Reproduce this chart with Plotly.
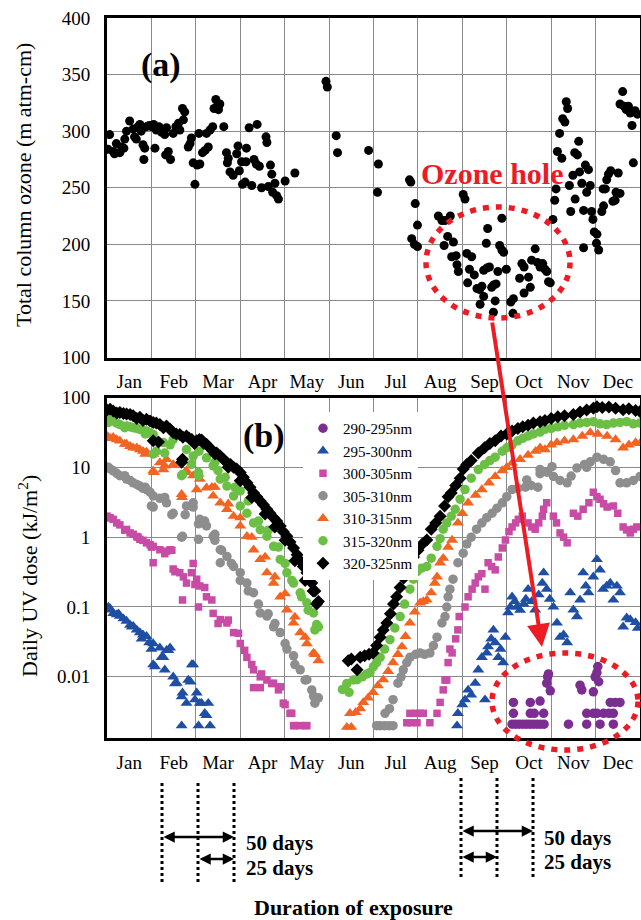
import math
import plotly.graph_objects as go

# ---------------- data (x in months from Jan 1: 0..12) ----------------
months = ["Jan", "Feb", "Mar", "Apr", "May", "Jun", "Jul", "Aug", "Sep", "Oct", "Nov", "Dec"]
month_centers = [i + 0.5 for i in range(12)]
month_bounds = list(range(1, 12))

ozone_tick_vals = [100, 150, 200, 250, 300, 350, 400]
uv_tick_vals = [0.01, 0.1, 1, 10, 100]
uv_tick_text = ["0.01", "0.1", "1", "10", "100"]

# total column ozone (m atm-cm): (month, value)
ozone = [
    (0.02, 284), (0.06, 297), (0.14, 282), (0.21, 289), (0.17, 280), (0.29, 281), (0.33, 286), (0.38, 285),
    (0.40, 293), (0.44, 300), (0.51, 309), (0.59, 302), (0.62, 295), (0.66, 293), (0.70, 304), (0.74, 306),
    (0.77, 300), (0.81, 288), (0.85, 285), (0.83, 275), (0.89, 304), (0.95, 305), (1.00, 304), (1.05, 306),
    (1.08, 285), (1.11, 301), (1.17, 304), (1.23, 299), (1.27, 301), (1.30, 297), (1.34, 303), (1.32, 279),
    (1.38, 282), (1.43, 275), (1.49, 298), (1.55, 304), (1.61, 307), (1.64, 301), (1.70, 320), (1.75, 317),
    (1.72, 310), (1.83, 286), (1.87, 289), (1.90, 294), (1.94, 272), (1.98, 253), (2.03, 270), (2.09, 271),
    (2.07, 298), (2.15, 281), (2.21, 283), (2.24, 298), (2.28, 286), (2.32, 301), (2.38, 304), (2.41, 320),
    (2.45, 328), (2.48, 322), (2.51, 319), (2.54, 324), (2.63, 304), (2.69, 281), (2.73, 276), (2.71, 272),
    (2.77, 264), (2.84, 261), (2.92, 280), (2.95, 287), (2.98, 265), (3.03, 273), (3.05, 253), (3.11, 255),
    (3.14, 285), (3.13, 273), (3.20, 303), (3.26, 252), (3.31, 275), (3.36, 271), (3.38, 306), (3.43, 269),
    (3.48, 250), (3.58, 295), (3.60, 290), (3.63, 251), (3.68, 270), (3.71, 262), (3.73, 246), (3.78, 254),
    (3.82, 243), (3.86, 240), (4.01, 256), (4.23, 263), (4.93, 344), (4.96, 339), (5.16, 296), (5.19, 281),
    (5.89, 283), (6.11, 271), (6.09, 246), (6.81, 257), (6.84, 255), (6.94, 236), (6.99, 217), (6.86, 205),
    (6.92, 200), (6.99, 198), (7.46, 225), (7.54, 221), (7.61, 221), (7.73, 225), (7.67, 207), (7.59, 199),
    (7.80, 202), (7.76, 189), (7.86, 190), (7.88, 182), (7.91, 176), (8.02, 244), (8.06, 240), (8.10, 192),
    (8.21, 189), (8.16, 178), (8.12, 166), (8.27, 173), (8.33, 161), (8.39, 160), (8.48, 154), (8.40, 147),
    (8.44, 163), (8.48, 177), (8.55, 179), (8.61, 180), (8.57, 214), (8.54, 201), (8.66, 162), (8.70, 164),
    (8.76, 165), (8.74, 150), (8.70, 140), (8.80, 176), (8.84, 199), (8.89, 195), (8.93, 193), (8.89, 223),
    (8.99, 178), (9.09, 149), (9.15, 152), (9.14, 139), (9.29, 170), (9.34, 183), (9.39, 180), (9.39, 157),
    (9.49, 171), (9.53, 162), (9.56, 186), (9.64, 196), (9.69, 184), (9.75, 180), (9.81, 183), (9.86, 178),
    (9.90, 176), (9.94, 167), (9.98, 166), (10.04, 222), (10.08, 239), (10.11, 249), (10.14, 282), (10.19, 298),
    (10.24, 276), (10.26, 311), (10.31, 308), (10.34, 326), (10.37, 320), (10.41, 252), (10.44, 229), (10.49, 261),
    (10.54, 240), (10.53, 281), (10.59, 279), (10.62, 291), (10.64, 264), (10.69, 254), (10.73, 197), (10.73, 230),
    (10.77, 270), (10.80, 246), (10.84, 266), (10.88, 252), (10.91, 229), (10.94, 222), (10.97, 211), (11.03, 209),
    (11.02, 201), (11.07, 195), (11.14, 229), (11.18, 234), (11.17, 249), (11.22, 249), (11.25, 257), (11.29, 262),
    (11.34, 265), (11.39, 238), (11.44, 239), (11.46, 246), (11.51, 263), (11.55, 245), (11.61, 335), (11.55, 324),
    (11.64, 322), (11.69, 319), (11.74, 322), (11.78, 316), (11.82, 305), (11.85, 272), (11.89, 318), (11.94, 315),
]

# daily UV dose (kJ/m2): (month, value)
uv_290_295 = [
    (9.12, 0.0021), (9.20, 0.0021), (9.28, 0.0021), (9.36, 0.0021), (9.44, 0.0021), (9.52, 0.0021), (9.60, 0.0021),
    (9.68, 0.0021), (9.76, 0.0021), (9.84, 0.0021), (10.39, 0.0021), (10.80, 0.0021), (11.10, 0.0021), (11.40, 0.0021),
    (9.15, 0.003), (9.53, 0.003), (9.62, 0.003), (9.83, 0.003), (10.80, 0.003), (10.95, 0.003), (11.03, 0.003),
    (11.18, 0.003), (11.30, 0.003), (11.40, 0.003), (9.15, 0.0043), (9.53, 0.0043), (9.75, 0.0045), (11.33, 0.0043),
    (11.44, 0.0043), (11.55, 0.0043), (9.90, 0.0081), (9.98, 0.0063), (10.69, 0.0065), (10.65, 0.0076), (10.95, 0.0061),
    (11.07, 0.0085), (9.92, 0.010), (9.94, 0.011), (10.99, 0.010), (11.03, 0.0115), (11.05, 0.014),
]

uv_295_300 = [
    (0.00, 0.091), (0.03, 0.10), (0.07, 0.095), (0.14, 0.081), (0.22, 0.078), (0.26, 0.080), (0.29, 0.074), (0.37, 0.068),
    (0.44, 0.063), (0.52, 0.055), (0.56, 0.052), (0.59, 0.053), (0.67, 0.047), (0.74, 0.043), (0.78, 0.035), (0.81, 0.040),
    (0.89, 0.038), (0.95, 0.031), (1.00, 0.025), (1.04, 0.030), (1.08, 0.014), (1.04, 0.015), (1.19, 0.026), (1.23, 0.019),
    (1.27, 0.019), (1.30, 0.0126), (1.34, 0.024), (1.38, 0.024), (1.42, 0.026), (1.49, 0.010), (1.53, 0.008), (1.57, 0.0081),
    (1.68, 0.0052), (1.68, 0.002), (1.70, 0.0059), (1.79, 0.0042), (1.83, 0.009), (1.88, 0.0085), (1.94, 0.015),
    (1.91, 0.015), (1.98, 0.0047), (2.02, 0.0059), (2.06, 0.002), (2.09, 0.0042), (2.13, 0.0042), (2.20, 0.003),
    (2.24, 0.0028), (2.28, 0.0042), (2.32, 0.002),
    (7.88, 0.002), (7.90, 0.003), (8.00, 0.004), (8.06, 0.0047), (8.13, 0.0065), (8.20, 0.0055), (8.29, 0.0081),
    (8.36, 0.0126), (8.44, 0.019), (8.51, 0.0047), (8.55, 0.022), (8.58, 0.027), (8.65, 0.035), (8.70, 0.047),
    (8.74, 0.031), (8.81, 0.019), (8.86, 0.025), (8.92, 0.016), (8.97, 0.037), (9.03, 0.083), (9.08, 0.10),
    (9.12, 0.14), (9.18, 0.12), (9.23, 0.10), (9.30, 0.09), (9.38, 0.11), (9.43, 0.13), (9.48, 0.18), (9.56, 0.12),
    (9.64, 0.091), (9.72, 0.15), (9.80, 0.22), (9.83, 0.31), (9.90, 0.18), (9.97, 0.13), (10.05, 0.10), (10.13, 0.059),
    (10.20, 0.037), (10.28, 0.040), (10.36, 0.031), (10.43, 0.16), (10.50, 0.091), (10.58, 0.073), (10.65, 0.126),
    (10.72, 0.31), (10.78, 0.20), (10.84, 0.16), (10.95, 0.27), (11.03, 0.48), (11.10, 0.34), (11.17, 0.18),
    (11.25, 0.20), (11.33, 0.22), (11.40, 0.126), (11.48, 0.20), (11.55, 0.16), (11.62, 0.052), (11.70, 0.07),
    (11.78, 0.066), (11.90, 0.06), (11.95, 0.05),
]

uv_300_305 = [
    (0.00, 2.0), (0.03, 1.9), (0.07, 1.9), (0.14, 1.8), (0.22, 1.6), (0.29, 1.5), (0.40, 1.26), (0.44, 1.29),
    (0.52, 1.15), (0.59, 1.1), (0.67, 1.02), (0.70, 1.0), (0.74, 0.93), (0.81, 0.9), (0.89, 0.83), (0.97, 0.78),
    (1.00, 0.72), (1.04, 0.74), (1.04, 0.43), (1.19, 0.66), (1.30, 0.58), (1.34, 0.63), (1.42, 0.66), (1.46, 0.65),
    (1.49, 0.35), (1.53, 0.32), (1.64, 0.31), (1.70, 0.126), (1.72, 0.27), (1.79, 0.22), (1.90, 0.31), (1.94, 0.42),
    (1.98, 0.21), (2.02, 0.25), (2.06, 0.10), (2.09, 0.20), (2.20, 0.19), (2.24, 0.14), (2.36, 0.126), (2.39, 0.081),
    (2.50, 0.058), (2.55, 0.066), (2.70, 0.059), (2.73, 0.065), (2.85, 0.043), (2.96, 0.042), (3.00, 0.030),
    (3.10, 0.024), (3.15, 0.019), (3.26, 0.015), (3.30, 0.0126), (3.45, 0.010), (3.48, 0.011), (3.60, 0.009),
    (3.71, 0.008), (3.75, 0.0081), (3.86, 0.0065), (3.90, 0.0072), (3.30, 0.007), (3.45, 0.007), (3.97, 0.0042),
    (4.01, 0.004), (4.12, 0.003), (4.16, 0.003), (4.20, 0.002), (4.23, 0.002), (4.35, 0.002), (4.46, 0.002), (4.50, 0.002),
    (6.75, 0.0022), (6.85, 0.0022), (6.98, 0.0022), (6.82, 0.003), (6.95, 0.003), (7.05, 0.003), (7.12, 0.003),
    (7.27, 0.0022), (7.43, 0.003), (7.50, 0.0043), (7.57, 0.0065), (7.61, 0.009), (7.65, 0.009), (7.68, 0.016),
    (7.72, 0.025), (7.77, 0.022), (7.85, 0.035), (7.90, 0.047), (7.93, 0.073), (8.06, 0.10), (8.13, 0.14),
    (8.22, 0.18), (8.29, 0.22), (8.36, 0.27), (8.44, 0.30), (8.51, 0.18), (8.58, 0.43), (8.66, 0.38), (8.74, 0.34),
    (8.81, 0.52), (8.90, 0.70), (8.97, 0.91), (9.05, 1.2), (9.12, 1.4), (9.20, 1.6), (9.26, 1.8), (9.35, 2.0),
    (9.48, 1.6), (9.56, 1.4), (9.64, 1.3), (9.72, 1.6), (9.80, 2.0), (9.90, 3.1), (9.83, 2.5), (10.05, 2.0),
    (10.12, 1.6), (10.20, 1.15), (10.28, 1.0), (10.36, 0.83), (10.50, 2.2), (10.60, 2.0), (10.72, 2.5), (10.85, 3.1),
    (10.95, 4.4), (11.03, 3.8), (11.10, 3.5), (11.18, 3.0), (11.26, 2.7), (11.40, 2.8), (11.50, 2.2), (11.62, 1.4),
    (11.70, 1.27), (11.78, 1.15), (11.85, 1.3), (11.93, 1.4),
]

uv_305_310 = [
    (0.00, 10), (0.03, 10), (0.07, 9.5), (0.14, 8.9), (0.22, 8.2), (0.29, 7.6), (0.40, 7.6), (0.44, 6.8),
    (0.52, 6.5), (0.59, 6.0), (0.67, 5.7), (0.74, 5.4), (0.81, 5.0), (0.86, 5.2), (0.89, 4.8), (0.97, 4.4),
    (1.04, 3.9), (1.04, 2.7), (1.00, 2.8), (1.19, 3.6), (1.30, 3.7), (1.34, 3.1), (1.46, 2.1), (1.49, 2.2),
    (1.68, 1.0), (1.70, 1.03), (1.76, 2.1), (1.79, 2.8), (1.94, 2.7), (1.94, 3.1), (2.06, 1.55), (2.06, 0.93),
    (2.09, 1.8), (2.20, 1.7), (2.24, 1.45), (2.39, 1.03), (2.43, 0.9), (2.43, 1.1), (2.55, 0.66), (2.55, 0.43),
    (2.58, 0.65), (2.70, 0.53), (2.80, 0.42), (2.85, 0.38), (3.00, 0.31), (3.00, 0.24), (3.15, 0.22), (3.18, 0.17),
    (3.30, 0.16), (3.41, 0.11), (3.45, 0.082), (3.60, 0.074), (3.63, 0.08), (3.75, 0.052), (3.78, 0.058),
    (3.90, 0.043), (4.01, 0.030), (4.05, 0.025), (4.20, 0.020), (4.23, 0.015), (4.35, 0.0126), (4.46, 0.009),
    (4.50, 0.0091), (4.61, 0.0065), (4.65, 0.0053), (4.68, 0.0042), (4.76, 0.005),
    (6.07, 0.002), (6.15, 0.002), (6.25, 0.002), (6.35, 0.002), (6.44, 0.002), (6.26, 0.003), (6.36, 0.0035),
    (6.44, 0.0047), (6.55, 0.0081), (6.62, 0.010), (6.67, 0.0126), (6.75, 0.016), (6.82, 0.019), (6.95, 0.021),
    (7.05, 0.022), (7.15, 0.021), (7.27, 0.022), (7.35, 0.028), (7.43, 0.037), (7.54, 0.059), (7.61, 0.073),
    (7.65, 0.10), (7.68, 0.14), (7.72, 0.18), (7.79, 0.25), (7.90, 0.43), (8.02, 0.59), (8.10, 0.80), (8.20, 1.0),
    (8.32, 1.3), (8.44, 1.6), (8.55, 1.9), (8.67, 2.2), (8.78, 2.6), (8.90, 3.1), (9.00, 3.8), (9.12, 4.8),
    (9.25, 5.0), (9.42, 5.2), (9.45, 6.6), (9.55, 5.5), (9.70, 5.2), (9.75, 8.1), (9.75, 9.3), (9.90, 8.5),
    (10.02, 10.2), (10.05, 7.4), (10.20, 6.5), (10.36, 6.0), (10.45, 7.5), (10.58, 9.8), (10.75, 11), (10.80, 10),
    (10.88, 12), (11.03, 14), (11.18, 13), (11.33, 12), (11.45, 9), (11.55, 6.0), (11.70, 6.0), (11.85, 6.5),
    (12.00, 7.4),
]

uv_310_315 = [
    (0.00, 28), (0.03, 27), (0.07, 26), (0.14, 27), (0.22, 25), (0.29, 24), (0.40, 21.5), (0.44, 21.5),
    (0.52, 20), (0.59, 19), (0.67, 19), (0.74, 18), (0.81, 17), (0.86, 15.5), (0.89, 16.6), (1.04, 15.4),
    (1.04, 8.9), (1.06, 8.5), (1.19, 11.7), (1.27, 9.3), (1.30, 10.5), (1.34, 13), (1.49, 11), (1.68, 4.1),
    (1.69, 3.7), (1.76, 8.5), (1.79, 8.9), (1.94, 7.6), (2.02, 4.8), (2.06, 8.0), (2.09, 6.8), (2.24, 5.1),
    (2.36, 5.2), (2.39, 3.9), (2.43, 5.2), (2.55, 3.1), (2.70, 2.5), (2.73, 3.0), (2.85, 2.0), (3.00, 1.45),
    (3.00, 1.9), (3.15, 1.03), (3.26, 1.0), (3.30, 0.66), (3.45, 0.48), (3.56, 0.52), (3.60, 0.31), (3.75, 0.22),
    (3.78, 0.27), (3.90, 0.14), (4.01, 0.155), (4.05, 0.091), (4.20, 0.059), (4.23, 0.072), (4.35, 0.043),
    (4.46, 0.037), (4.50, 0.030), (4.65, 0.022), (4.68, 0.021), (4.76, 0.017),
    (5.40, 0.0019), (5.50, 0.0019), (5.47, 0.003), (5.60, 0.0031), (5.70, 0.0035), (5.77, 0.0043), (5.88, 0.005),
    (5.99, 0.006), (6.10, 0.0075), (6.22, 0.0091), (6.33, 0.012), (6.44, 0.016), (6.55, 0.021), (6.64, 0.027),
    (6.72, 0.038), (6.82, 0.059), (6.93, 0.085), (7.05, 0.115), (7.12, 0.12), (7.20, 0.126), (7.30, 0.16),
    (7.38, 0.22), (7.43, 0.27), (7.50, 0.43), (7.57, 0.50), (7.68, 0.72), (7.77, 0.91), (7.90, 1.6), (8.00, 2.2),
    (8.13, 3.1), (8.30, 4.0), (8.44, 4.8), (8.60, 6.0), (8.74, 7.4), (8.90, 9.0), (9.00, 10), (9.12, 11.5),
    (9.30, 13), (9.48, 15), (9.65, 17), (9.75, 19), (9.86, 18), (10.00, 21), (10.13, 22.6), (10.30, 24),
    (10.50, 25), (10.70, 28), (10.88, 31.5), (11.05, 30), (11.26, 28), (11.45, 25), (11.62, 19), (11.75, 21),
    (11.90, 22.6), (12.00, 22),
]

uv_315_320 = [
    (0.00, 49), (0.03, 44), (0.07, 47), (0.14, 46), (0.22, 43), (0.29, 41), (0.40, 37), (0.44, 39),
    (0.52, 38), (0.59, 37), (0.67, 36), (0.74, 35), (0.81, 34), (0.86, 30), (0.89, 33), (0.97, 31),
    (1.04, 29.6), (1.04, 15.5), (1.11, 17), (1.27, 22.6), (1.30, 16), (1.42, 21), (1.49, 25), (1.68, 7.6),
    (1.70, 7.9), (1.79, 18), (1.90, 11), (1.94, 14.5), (2.06, 8.4), (2.06, 7.6), (2.07, 17), (2.24, 13.7),
    (2.39, 10.5), (2.43, 11.8), (2.50, 9), (2.55, 6.8), (2.66, 7.2), (2.70, 5.4), (2.85, 3.9), (2.88, 5.2),
    (3.00, 2.8), (3.00, 4.6), (3.15, 2.2), (3.18, 3.3), (3.30, 1.6), (3.41, 1.7), (3.45, 1.28), (3.60, 1.03),
    (3.63, 1.26), (3.75, 0.74), (3.86, 0.72), (3.90, 0.48), (4.01, 0.42), (4.05, 0.31), (4.16, 0.24), (4.20, 0.22),
    (4.35, 0.16), (4.38, 0.14), (4.50, 0.115), (4.53, 0.09), (4.65, 0.082), (4.68, 0.047), (4.72, 0.056), (4.76, 0.052),
    (5.30, 0.0066), (5.40, 0.008), (5.45, 0.006), (5.55, 0.009), (5.63, 0.0091), (5.75, 0.010), (5.85, 0.011),
    (5.92, 0.0115), (6.00, 0.014), (6.07, 0.016), (6.15, 0.019), (6.25, 0.025), (6.37, 0.034), (6.48, 0.050),
    (6.60, 0.073), (6.70, 0.11), (6.82, 0.18), (6.90, 0.25), (6.98, 0.32), (7.08, 0.36), (7.20, 0.38), (7.30, 0.50),
    (7.43, 0.74), (7.50, 0.95), (7.57, 1.3), (7.65, 1.6), (7.75, 2.0), (7.84, 2.5), (7.95, 3.5), (8.06, 4.8),
    (8.20, 7.0), (8.36, 9.3), (8.50, 11), (8.62, 12.5), (8.74, 14), (8.90, 17), (9.00, 19), (9.12, 21),
    (9.25, 24), (9.36, 26), (9.48, 28), (9.60, 30), (9.75, 32), (9.86, 35), (10.00, 36), (10.15, 38),
    (10.30, 40), (10.50, 41), (10.65, 43), (10.80, 44), (10.95, 45), (11.10, 42), (11.25, 41), (11.40, 43),
    (11.55, 44), (11.70, 45), (11.85, 42), (12.00, 43),
]

uv_320_325 = [
    (0.00, 66), (0.07, 68), (0.14, 64), (0.22, 60), (0.29, 61), (0.37, 59), (0.44, 58), (0.52, 57),
    (0.59, 55), (0.67, 50), (0.74, 52), (0.81, 47), (0.89, 49), (0.97, 46), (1.04, 44), (1.04, 24),
    (1.11, 43), (1.16, 23), (1.19, 41), (1.27, 37), (1.34, 39), (1.42, 35), (1.49, 31.5), (1.56, 30),
    (1.64, 29.6), (1.68, 11.8), (1.70, 13), (1.71, 27), (1.79, 28), (1.85, 26), (1.91, 25), (1.97, 22),
    (2.02, 24), (2.08, 25), (2.13, 24.6), (2.18, 22), (2.24, 21.4), (2.31, 19), (2.39, 17), (2.43, 15.5),
    (2.47, 16), (2.55, 14.5), (2.62, 13), (2.70, 11.7), (2.73, 10), (2.78, 11), (2.85, 10), (2.92, 9.5),
    (3.00, 8.4), (3.00, 6.4), (3.07, 7.2), (3.15, 6.0), (3.22, 5.2), (3.26, 3.7), (3.30, 4.3), (3.37, 3.8),
    (3.45, 3.3), (3.52, 2.9), (3.56, 2.15), (3.60, 2.5), (3.67, 2.2), (3.75, 1.9), (3.78, 1.4), (3.82, 1.7),
    (3.90, 1.45), (3.97, 1.2), (4.01, 0.9), (4.05, 1.03), (4.12, 0.85), (4.20, 0.70), (4.23, 0.46), (4.28, 0.56),
    (4.35, 0.46), (4.42, 0.38), (4.46, 0.24), (4.50, 0.31), (4.55, 0.27), (4.61, 0.22), (4.64, 0.17),
    (4.68, 0.17), (4.72, 0.11), (4.76, 0.12),
    (5.43, 0.017), (5.50, 0.018), (5.63, 0.0126), (5.70, 0.019), (5.80, 0.020), (5.90, 0.021), (5.99, 0.022),
    (6.07, 0.028), (6.15, 0.037), (6.22, 0.047), (6.30, 0.059), (6.38, 0.08), (6.45, 0.11), (6.52, 0.14),
    (6.60, 0.19), (6.68, 0.26), (6.75, 0.33), (6.82, 0.43), (6.90, 0.52), (7.00, 0.65), (7.10, 0.80), (7.20, 0.91),
    (7.30, 1.3), (7.40, 1.6), (7.50, 2.0), (7.60, 2.8), (7.68, 3.8), (7.75, 4.3), (7.85, 5.5), (7.95, 7.0),
    (8.02, 9.5), (8.10, 11), (8.20, 12.5), (8.36, 16), (8.50, 19), (8.62, 22), (8.74, 24), (8.87, 28),
    (9.00, 30), (9.12, 33), (9.25, 36), (9.36, 38), (9.48, 40), (9.60, 43), (9.75, 45), (9.86, 47),
    (10.00, 50), (10.15, 53), (10.30, 55), (10.50, 57), (10.65, 62), (10.80, 66), (10.95, 70), (11.03, 74),
    (11.15, 72), (11.30, 73), (11.45, 70), (11.62, 67), (11.75, 69), (11.90, 65), (12.00, 63),
]

uv_series = [
    ("290-295nm", uv_290_295, "circle", "#7B2D90", 9.5),
    ("295-300nm", uv_295_300, "triangle-up", "#1F4FA3", 10.5),
    ("300-305nm", uv_300_305, "square", "#C84BA5", 7.5),
    ("305-310nm", uv_305_310, "circle", "#8E8E8E", 9.5),
    ("310-315nm", uv_310_315, "triangle-up", "#F26422", 10.5),
    ("315-320nm", uv_315_320, "circle", "#6CBF45", 9.5),
    ("320-325nm", uv_320_325, "diamond", "#000000", 10),
]

# ---------------- layout helpers (pixel -> paper) ----------------
W, H = 641, 920
ML, MR, MT, MB = 107, 1, 17, 2
PW, PH = W - ML - MR, H - MT - MB


def fx(px):
    return (px - ML) / PW


def fy(py):
    return (H - MB - py) / PH


FONT = "Liberation Serif"
GRID = "#8a8a8a"
RED = "#EC1C24"

fig = go.Figure()

oz_x = [p[0] for p in ozone]
oz_y = [p[1] for p in ozone]
fig.add_trace(go.Scatter(x=oz_x, y=oz_y, mode="markers", xaxis="x", yaxis="y",
                         marker=dict(color="black", size=9), showlegend=False, hoverinfo="skip"))

for name, pts, sym, col, size in uv_series:
    fig.add_trace(go.Scatter(x=[p[0] for p in pts], y=[p[1] for p in pts], mode="markers",
                             xaxis="x2", yaxis="y2", name=name,
                             marker=dict(symbol=sym, color=col, size=size, line=dict(width=0))))

axis_common = dict(showline=True, linewidth=3, linecolor="black", mirror=True, zeroline=False,
                   automargin=False, tickfont=dict(family=FONT, size=19, color="black"))

xcommon = dict(axis_common, range=[0, 12], tickmode="array", tickvals=month_centers, ticktext=months,
               showgrid=False, ticks="outside", ticklen=5, tickcolor="rgba(0,0,0,0)",
               minor=dict(tickmode="array", tickvals=month_bounds, showgrid=True, gridcolor=GRID,
                          gridwidth=1, ticks=""))

fig.update_layout(
    width=W, height=H, autosize=False,
    margin=dict(l=ML, r=MR, t=MT, b=MB, autoexpand=False),
    paper_bgcolor="white", plot_bgcolor="white",
    font=dict(family=FONT, color="black"),
    xaxis=dict(xcommon, domain=[0, 1], anchor="y"),
    yaxis=dict(axis_common, domain=[fy(357.5), fy(18)], range=[100, 400], tickmode="array",
               tickvals=ozone_tick_vals, showgrid=True, gridcolor=GRID, gridwidth=1,
               ticks="outside", ticklen=10, tickcolor="rgba(0,0,0,0)"),
    xaxis2=dict(xcommon, domain=[0, 1], anchor="y2"),
    yaxis2=dict(axis_common, domain=[fy(738), fy(397.5)], type="log",
                range=[math.log10(0.00133), 2], tickmode="array", tickvals=uv_tick_vals,
                ticktext=uv_tick_text, showgrid=True, gridcolor=GRID, gridwidth=1,
                ticks="outside", ticklen=10, tickcolor="rgba(0,0,0,0)"),
    legend=dict(x=fx(303), y=fy(412), xanchor="left", yanchor="top", bgcolor="white",
                font=dict(family=FONT, size=15, color="black"), borderwidth=0,
                tracegroupgap=0, itemsizing="trace"),
    showlegend=True,
)

ann = []


def text(px, py, s, size, bold=False, color="black", xanchor="center", angle=0):
    ann.append(dict(x=fx(px), y=fy(py), xref="paper", yref="paper", text=("<b>%s</b>" % s) if bold else s,
                    showarrow=False, xanchor=xanchor, yanchor="middle", textangle=angle,
                    font=dict(family=FONT, size=size, color=color)))


text(161, 65, "(a)", 34, bold=True)
text(264, 436, "(b)", 34, bold=True)
text(492, 173, "Ozone hole", 30, bold=True, color=RED)
text(23, 185, "Total column ozone (m atm-cm)", 22, angle=-90)
text(28, 576, "Daily UV dose (kJ/m<sup>2</sup>)", 22, angle=-90)
text(244, 843, "50 days", 21, bold=True, xanchor="left")
text(244, 868, "25 days", 21, bold=True, xanchor="left")
text(542, 838, "50 days", 21, bold=True, xanchor="left")
text(542, 862, "25 days", 21, bold=True, xanchor="left")
text(353, 907, "Duration of exposure", 22, bold=True)


def arrow(x0, y0, x1, y1, width, size, color, both=False):
    ann.append(dict(x=fx(x1), y=fy(y1), xref="paper", yref="paper", ax=x0 - x1, ay=y0 - y1,
                    text="", showarrow=True, arrowhead=2, arrowsize=size, arrowwidth=width,
                    arrowcolor=color, arrowside="end+start" if both else "end",
                    startarrowhead=2, startarrowsize=size, standoff=0, startstandoff=0))


arrow(492, 321, 542, 647, 4, 1.15, RED)
arrow(162, 837, 234, 837, 2.5, 0.9, "black", both=True)
arrow(198, 859, 234, 859, 2.5, 0.9, "black", both=True)
arrow(461, 831, 533, 831, 2.5, 0.9, "black", both=True)
arrow(461, 857, 497, 857, 2.5, 0.9, "black", both=True)

fig.update_layout(annotations=ann)

shapes = []
for px_ in (162, 198, 234):
    shapes.append(dict(type="line", xref="paper", yref="paper", x0=fx(px_), x1=fx(px_), y0=fy(783), y1=fy(884),
                       line=dict(color="black", width=3, dash="dot")))
for px_ in (461, 497, 533):
    shapes.append(dict(type="line", xref="paper", yref="paper", x0=fx(px_), x1=fx(px_), y0=fy(778), y1=fy(879),
                       line=dict(color="black", width=3, dash="dot")))
shapes.append(dict(type="circle", xref="paper", yref="paper", x0=fx(426), x1=fx(570), y0=fy(318), y1=fy(207),
                   line=dict(color=RED, width=5.5, dash="6px,7px")))
shapes.append(dict(type="circle", xref="paper", yref="paper", x0=fx(492), x1=fx(638), y0=fy(750), y1=fy(653),
                   line=dict(color=RED, width=5.5, dash="6px,7px")))
fig.update_layout(shapes=shapes)

fig.write_html("out.html", config={"displayModeBar": False},
               post_script="document.body.style.margin='0';document.body.style.overflow='hidden';")
